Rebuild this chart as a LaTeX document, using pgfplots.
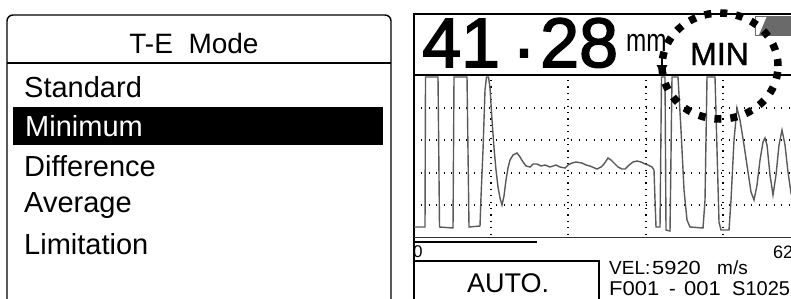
\documentclass[border=0pt]{standalone}
\usepackage{fontspec}
\setmainfont{Liberation Sans}
\newfontfamily\semibold[FakeBold=1.2]{Liberation Sans}
\newfontfamily\bigdig[FakeBold=2.2]{Liberation Sans}
\usepackage{graphicx}
\usepackage{pgfplots}
\pgfplotsset{compat=1.18}
\definecolor{wave}{HTML}{5A5A5A}
\definecolor{icongray}{HTML}{6A6A6A}
\newcommand{\fs}[1]{\fontsize{#1}{#1}\selectfont}
\begin{document}
\begin{tikzpicture}
\useasboundingbox (0,0) rectangle (791pt,298pt);
\clip (0,0) rectangle (791pt,298pt);
\fill[white] (0,0) rectangle (791pt,298pt);
\begin{axis}[at={(0,0)}, anchor=south west, width=791pt, height=298pt,
  scale only axis, xmin=0, xmax=791, ymin=0, ymax=298, y dir=reverse,
  hide axis, clip=false]
% ---------- left panel ----------
\draw[line width=1.4pt, rounded corners=6pt] (axis cs:7,320) -- (axis cs:7,15) -- (axis cs:391,15) -- (axis cs:391,320);
\draw[line width=1.2pt] (axis cs:7,63) -- (axis cs:391,63);
\node[anchor=base, inner sep=0pt] at (axis cs:194,53) {\fs{28}T-E\ \ Mode};
\node[anchor=base west, inner sep=0pt] at (axis cs:24,97) {\fs{29}Standard};
\fill[black] (axis cs:13,107) rectangle (axis cs:383,145);
\node[anchor=base west, inner sep=0pt, text=white] at (axis cs:25,136) {\fs{29}Minimum};
\node[anchor=base west, inner sep=0pt] at (axis cs:24,176) {\fs{29}Difference};
\node[anchor=base west, inner sep=0pt] at (axis cs:24,212) {\fs{29}Average};
\node[anchor=base west, inner sep=0pt] at (axis cs:24,254) {\fs{29}Limitation};
% ---------- right panel frame ----------
\draw[line width=1.3pt] (axis cs:414,320) -- (axis cs:414,14) -- (axis cs:800,14);
\draw[line width=1.5pt] (axis cs:414,75) -- (axis cs:800,75);
% grid
\foreach \gx in {491,568,646,723} {
  \edef\tmp{\noexpand\draw[line width=1.2pt, dash pattern=on 1.2pt off 5.2pt] (axis cs:\gx,80) -- (axis cs:\gx,237);}\tmp
}
\foreach \gy in {108,140,173,205} {
  \edef\tmp{\noexpand\draw[line width=1.2pt, dash pattern=on 1.2pt off 6.3pt] (axis cs:421,\gy) -- (axis cs:800,\gy);}\tmp
}
% waveform
\addplot[wave, line width=1.4pt, mark=none] coordinates {
(414,227) (425,227) (425.5,77) (438,77) (439.5,227) (453,228) (454,77) (467,77)
(469,227) (480,226) (481,197) (483,150) (485,90) (486.5,77) (488.5,77) (490,88)
(492,120) (494,148) (496,170) (498,187) (500,198) (502,205) (504,196) (506,180)
(508,168) (510,160) (513,155) (517,153) (520,157) (523,162) (526,166) (530,167)
(533,164) (537,164) (541,166) (545,165) (550,167) (556,165) (560,167) (565,168)
(568,165) (572,163) (576,162) (582,163) (586,165) (590,166) (597,169) (601,167)
(604,164) (608,158) (611,160) (614,163) (618,167) (622,169) (625,169) (629,165)
(633,162) (637,161) (641,162) (645,164) (648,165) (652,167) (654,170) (655,200)
(656,227) (660,227) (661.5,77) (665,77) (666,230) (670,231) (672,77) (678,77)
(681,130) (684,190) (687,220) (690,227) (703,228) (705,200) (707,77) (715,77)
(717,150) (719,222) (721,230) (729,230) (731,200) (734,140) (737,108) (740,120)
(744,145) (748,172) (751,192) (754,200) (757,185) (760,160) (763,142) (765,138)
(767,145) (770,175) (773,195) (776,175) (779,145) (782,130) (785,145) (788,172)
(791,193) (795,210)
};
% baseline and range bar
\draw[line width=1.5pt, black!80] (axis cs:414,237.5) -- (axis cs:800,237.5);
\draw[line width=2.2pt] (axis cs:414,242) -- (axis cs:537,242);
\node[anchor=base west, inner sep=0pt] at (axis cs:413,257) {\fs{17}0};
\node[anchor=base west, inner sep=0pt] at (axis cs:773,258) {\fs{18}62};
% bottom box
\draw[line width=1.3pt] (axis cs:414,261) -- (axis cs:599,261) -- (axis cs:599,320);
\node[anchor=base, inner sep=0pt] at (axis cs:508,292) {\fs{27}AUTO.};
\node[anchor=base west, inner sep=0pt] at (axis cs:609,274) {\fs{19}VEL:};
\node[anchor=base west, inner sep=0pt] at (axis cs:652,274) {\fs{19}\scalebox{1.15}[1]{5920}};
\node[anchor=base west, inner sep=0pt] at (axis cs:717,274) {\fs{19}m/s};
\node[anchor=base west, inner sep=0pt] at (axis cs:609,295) {\fs{20}\scalebox{1.1}[1]{F001}};
\node[anchor=base west, inner sep=0pt] at (axis cs:669,295) {\fs{20}-};
\node[anchor=base west, inner sep=0pt] at (axis cs:684,295) {\fs{20}\scalebox{1.1}[1]{001}};
\node[anchor=base west, inner sep=0pt] at (axis cs:732,295) {\fs{20}S1025};
% big reading
\node[anchor=base west, inner sep=0pt] at (axis cs:422,67) {\fs{70}\bigdig 41};
\node[anchor=base west, inner sep=0pt] at (axis cs:514,57) {\fs{70}\bigdig .};
\node[anchor=base west, inner sep=0pt] at (axis cs:540,67) {\fs{70}\bigdig 28};
\node[anchor=base west, inner sep=0pt] at (axis cs:626,51) {\fs{32}\scalebox{0.76}[1]{mm}};
\node[anchor=base west, inner sep=0pt] at (axis cs:690,65) {\fs{32}\semibold MIN};
% gate marker
\draw[line width=2.4pt] (axis cs:662,57) -- (axis cs:662,66);
\fill (axis cs:656.5,65) -- (axis cs:667.5,65) -- (axis cs:662,75) -- cycle;
% icon top right
\fill[icongray] (axis cs:767,16) -- (axis cs:800,16) -- (axis cs:800,35) -- (axis cs:759,35) -- cycle;
\draw[icongray, line width=1pt] (axis cs:755,16) rectangle (axis cs:800,35);
% dotted circle
\draw[line width=7.5pt, dash pattern=on 7pt off 9pt] (axis cs:720,66) ellipse [x radius=58pt, y radius=53pt];
\end{axis}
\end{tikzpicture}
\end{document}
